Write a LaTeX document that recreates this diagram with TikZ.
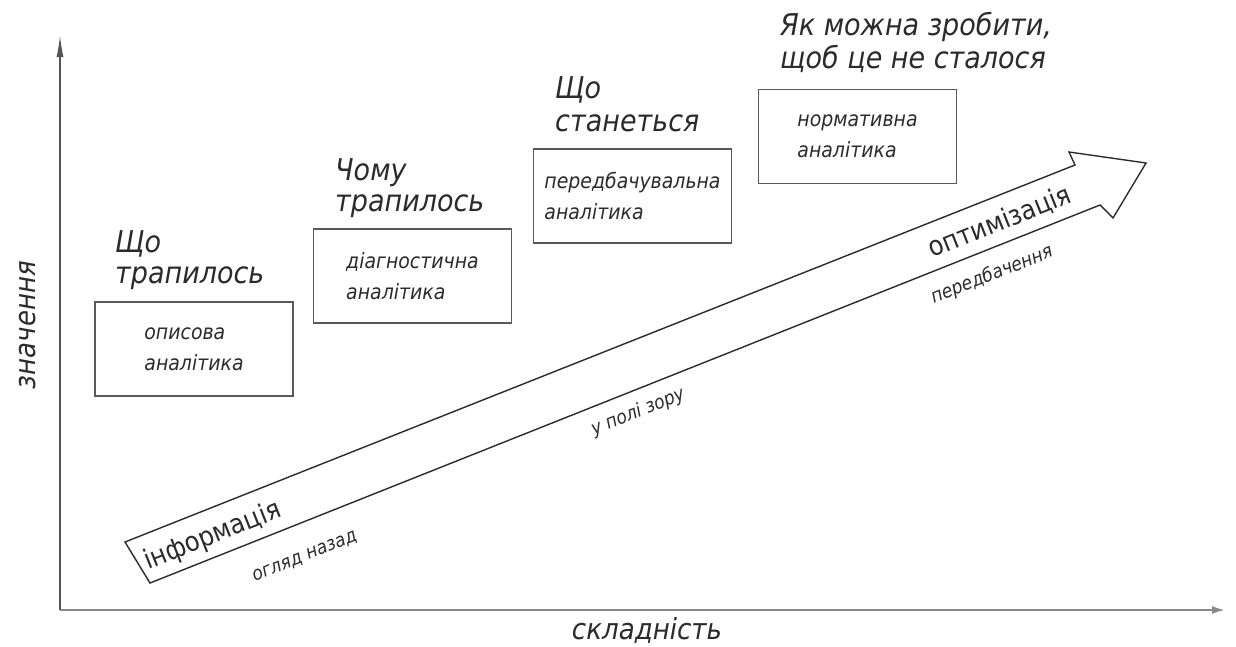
\documentclass[tikz,border=0pt]{standalone}
\usepackage{fontspec}
\setmainfont{DejaVu Sans}[FakeStretch=0.9]
\usetikzlibrary{arrows.meta}
\definecolor{ink}{HTML}{2B2B2B}
\definecolor{boxline}{HTML}{5A5A5A}
\definecolor{axisgray}{HTML}{8A8A8A}
\begin{document}
\begin{tikzpicture}[x=1pt,y=-1pt,
  title/.style={anchor=base west, inner sep=0pt, text=ink, font=\fontsize{30}{32}\selectfont\itshape},
  boxnode/.style={draw=boxline, line width=1.6pt, minimum width=198pt, minimum height=94pt,
     align=left, text=ink, inner sep=0pt, font=\fontsize{21}{31}\selectfont\itshape},
  biglabel/.style={inner sep=0pt, text=ink, rotate=21.65, font=\fontsize{27}{30}\selectfont},
  smalllabel/.style={inner sep=0pt, text=ink, rotate=21.65, font=\fontsize{19}{22}\selectfont\itshape},
  axislabel/.style={inner sep=0pt, text=ink, font=\fontsize{29}{32}\selectfont\itshape},
  arrowline/.style={draw=ink, line width=1.4pt, line join=miter}
]
\useasboundingbox (0,0) rectangle (1236,646);
\fill[white] (0,0) rectangle (1236,646);

% axes
\coordinate (O) at (60,610);
\coordinate (ytop) at (60,35);
\coordinate (xend) at (1226,610);
\draw[draw=axisgray, line width=2.6pt, -{Latex[length=14pt,width=8pt]}] (O) -- (xend);
\draw[draw=ink!80, line width=1.6pt, -{Latex[length=22pt,width=7pt]}] (O) -- (ytop);

\node[axislabel] (xlab) at (647,630) {складність};
\node[axislabel, rotate=90] (ylab) at (28,325) {значення};

% big arrow
\draw[arrowline] (125,542) -- (1075,165) -- (1069,152) -- (1146,163) -- (1113,218)
  -- (1100,205) -- (150,583) -- cycle;

\node[biglabel] (info) at (213,536) {інформація};
\node[biglabel] (opt) at (1000,222) {оптимізація};
\node[smalllabel] (back) at (305,557) {огляд назад};
\node[smalllabel] (view) at (638,412) {у полі зору};
\node[smalllabel] (pred) at (992,275) {передбачення};

% boxes
\node[boxnode] (b1) at (194,349) {описова\\аналітика};
\node[boxnode] (b2) at (412.5,276) {діагностична\\аналітика};
\node[boxnode] (b3) at (632.5,196) {передбачувальна\\аналітика};
\node[boxnode] (b4) at (857.5,136.5) {нормативна\\аналітика};

% titles
\node[title] (t1a) at (115,252) {Що};
\node[title] (t1b) at (115,283) {трапилось};
\node[title] (t2a) at (335,180) {Чому};
\node[title] (t2b) at (335,211) {трапилось};
\node[title] (t3a) at (555,98) {Що};
\node[title] (t3b) at (555,131) {станеться};
\node[title] (t4a) at (780,35) {Як можна зробити,};
\node[title] (t4b) at (780,68) {щоб це не сталося};
\end{tikzpicture}
\end{document}
